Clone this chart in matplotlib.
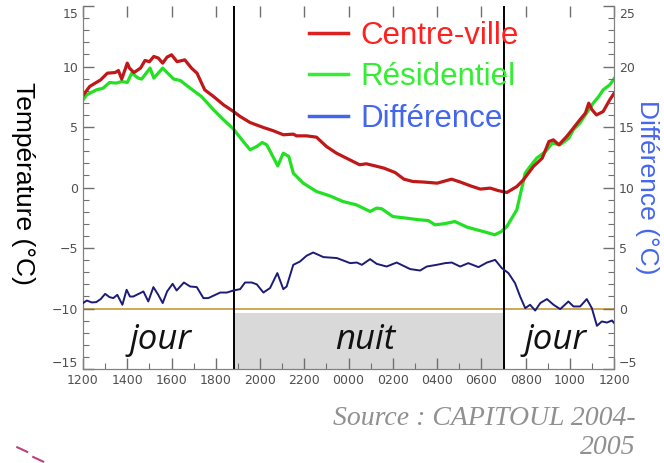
import matplotlib.pyplot as plt
from matplotlib.lines import Line2D
from matplotlib.transforms import ScaledTranslation
import numpy as np

# heures (12 = midi du 1er jour, 36 = midi du lendemain)
h_centre = [12.0, 12.3, 12.8, 13.1, 13.45, 13.6, 13.75, 14.0, 14.1, 14.3, 14.6, 14.8, 15.0, 15.2,
            15.4, 15.6, 15.8, 16.0, 16.25, 16.6, 16.9, 17.15, 17.5, 17.9, 18.35, 18.8, 19.1, 19.55,
            20.15, 20.6, 21.05, 21.5, 21.65, 22.1, 22.55, 23.0, 23.45, 24.05, 24.5, 24.8, 25.3, 25.6,
            26.1, 26.5, 26.9, 27.4, 28.0, 28.65, 29.05, 29.5, 29.95, 30.4, 30.75, 31.15, 31.6, 31.9,
            32.35, 32.75, 33.05, 33.25, 33.5, 33.85, 34.15, 34.45, 34.7, 34.85, 35.0, 35.2, 35.5,
            35.8, 36.0]
t_centre = [7.6, 8.35, 8.9, 9.45, 9.5, 9.67, 8.96, 10.28, 9.87, 9.5, 9.87, 10.5, 10.4, 10.83,
            10.7, 10.28, 10.78, 10.97, 10.4, 10.55, 9.87, 9.45, 8.07, 7.52, 6.83, 6.28, 5.87, 5.37,
            4.96, 4.69, 4.36, 4.41, 4.27, 4.27, 4.16, 3.39, 2.84, 2.29, 1.88, 1.96, 1.74, 1.6,
            1.24, 0.69, 0.5, 0.45, 0.36, 0.69, 0.45, 0.14, -0.13, -0.05, -0.25, -0.41, 0.08, 0.64,
            1.74, 2.43, 3.8, 3.94, 3.53, 4.21, 4.9, 5.6, 6.15, 6.97, 6.42, 6.0, 6.28,
            7.25, 7.8]

h_resid = [12.0, 12.17, 12.6, 12.9, 13.2, 13.5, 13.75, 14.0, 14.2, 14.5, 14.65, 15.03, 15.2, 15.6,
           15.8, 16.1, 16.4, 16.85, 17.35, 17.9, 18.35, 18.8, 19.0, 19.3, 19.55, 19.85, 20.1, 20.3,
           20.5, 20.8, 21.05, 21.3, 21.5, 21.95, 22.55, 23.15, 23.75, 24.35, 24.97, 25.27, 25.5,
           26.0, 26.6, 27.2, 27.6, 27.9, 28.3, 28.8, 29.35, 29.8, 30.25, 30.6, 30.9, 31.15, 31.6,
           31.98, 32.2, 32.5, 32.9, 33.2, 33.55, 33.95, 34.15, 34.45, 34.75, 35.05, 35.3, 35.5,
           35.8, 36.0]
t_resid = [7.25, 7.66, 8.07, 8.2, 8.68, 8.63, 8.76, 8.68, 9.45, 9.04, 8.96, 9.87, 9.04, 9.87,
           9.5, 8.96, 8.84, 8.2, 7.52, 6.42, 5.6, 4.83, 4.36, 3.67, 3.12, 3.39, 3.72, 3.53,
           2.84, 1.79, 2.84, 2.56, 1.19, 0.36, -0.33, -0.69, -1.16, -1.43, -1.98, -1.7, -1.76,
           -2.4, -2.53, -2.67, -2.73, -3.08, -3.0, -2.81, -3.27, -3.5, -3.72, -3.91, -3.64, -3.22, -1.84,
           1.19, 1.74, 2.43, 2.98, 3.67, 3.53, 4.08, 4.77, 5.32, 6.15, 6.97, 7.52, 8.07,
           8.49, 9.0]

h_diff = [12.0, 12.17, 12.4, 12.6, 12.8, 13.0, 13.2, 13.37, 13.55, 13.78, 13.97, 14.12, 14.27, 14.58,
          14.73, 14.95, 15.18, 15.4, 15.6, 15.8, 16.05, 16.23, 16.56, 16.84, 17.14, 17.44, 17.66,
          18.2, 18.5, 18.8, 19.1, 19.32, 19.62, 19.85, 20.15, 20.45, 20.78, 21.05, 21.2, 21.5, 21.8,
          22.1, 22.4, 22.86, 23.47, 24.07, 24.37, 24.6, 24.97, 25.27, 25.72, 26.17, 26.78, 27.23,
          27.53, 27.98, 28.36, 28.66, 29.04, 29.41, 29.87, 30.25, 30.62, 30.92, 31.22, 31.52, 31.75,
          31.98, 32.2, 32.43, 32.66, 32.96, 33.26, 33.56, 33.93, 34.16, 34.46, 34.76, 34.99, 35.22,
          35.44, 35.67, 35.9, 36.0]
diff = [0.45, 0.66, 0.5, 0.53, 0.78, 1.21, 0.94, 0.86, 1.13, 0.31, 1.55, 0.99, 0.99, 1.27,
        1.41, 0.58, 1.77, 1.13, 0.45, 1.41, 2.04, 1.49, 2.15, 1.82, 1.77, 0.86, 0.86,
        1.32, 1.32, 1.49, 1.6, 2.15, 2.15, 2.0, 1.32, 1.69, 2.93, 1.6, 1.82, 3.61, 3.88,
        4.36, 4.63, 4.25, 4.17, 3.75, 3.8, 3.61, 4.08, 3.69, 3.47, 3.8, 3.26, 3.14,
        3.47, 3.61, 3.75, 3.8, 3.47, 3.75, 3.42, 3.8, 4.02, 3.34, 2.93, 2.1, 0.99,
        0.03, 0.31, -0.17, 0.45, 0.78, 0.31, -0.05, 0.58, 0.17, 0.17, 0.78, 0.03, -1.43,
        -1.07, -1.16, -0.99, -1.21]

nuit_debut, nuit_fin = 18.8, 31.0
ticks_h = [12, 14, 16, 18, 20, 22, 24, 26, 28, 30, 32, 34, 36]
ticks_lab = ['1200', '1400', '1600', '1800', '2000', '2200', '0000', '0200', '0400', '0600',
             '0800', '1000', '1200']

fig = plt.figure(figsize=(6.64, 4.63), dpi=100)
ax = fig.add_axes([0.125, 0.203, 0.8, 0.784])
ax2 = ax.twinx()

ax.set_xlim(12, 36)
ax.set_ylim(-15, 15)
ax2.set_ylim(-5, 25)

ax.fill_between([nuit_debut, nuit_fin], -15, -10.38, color='#d9d9d9', lw=0, zorder=0)
ax.axhline(-10, color='#c9a24a', lw=1.3, zorder=1)
ax.axvline(nuit_debut, color='black', lw=1.4, zorder=4)
ax.axvline(nuit_fin, color='black', lw=1.4, zorder=4)

ax.plot(h_centre, t_centre, color='#c01818', lw=2.3, zorder=3)
ax.plot(h_resid, t_resid, color='#22e022', lw=2.3, zorder=2)
ax2.plot(h_diff, diff, color='#1c1c78', lw=1.4, zorder=3)

for xt, mot in [(15.48, 'jour'), (24.75, 'nuit'), (33.35, 'jour')]:
    ax.text(xt, -12.6, mot, fontsize=25, style='italic', ha='center', va='center',
            family='Open Sans', color='#111111')

ax.set_xticks(ticks_h)
ax.set_xticklabels(ticks_lab)
ax.set_xticks(np.arange(12, 36, 1), minor=True)
ax.set_yticks(np.arange(-15, 16, 5))
ax.set_yticks(np.arange(-15, 16, 1), minor=True)
ax2.set_yticks(np.arange(-5, 26, 5))
ax2.set_yticks(np.arange(-5, 26, 1), minor=True)

for a in (ax, ax2):
    a.tick_params(which='both', direction='in', colors='#707070', labelcolor='#505050',
                  labelsize=9, top=True)
    a.tick_params(which='major', length=8, width=1)
    a.tick_params(which='minor', length=4, width=0.8)
    for s in a.spines.values():
        s.set_color('#808080')
    a.spines['top'].set_visible(False)
ax.tick_params(axis='y', right=False)
ax.tick_params(axis='x', which='minor', top=False)
ax2.tick_params(axis='y', left=False, labelright=True)

# labels extremes un peu decales vers l'interieur
fig.canvas.draw()
up = ScaledTranslation(0, 5 / 72, fig.dpi_scale_trans)
down = ScaledTranslation(0, -5 / 72, fig.dpi_scale_trans)
for a in (ax, ax2):
    labs = a.get_yticklabels()
    labs[0].set_transform(labs[0].get_transform() + up)
    labs[-1].set_transform(labs[-1].get_transform() + down)

ax.set_ylabel('Température (°C)', fontsize=19, rotation=270, family='Liberation Sans')
ax.yaxis.set_label_coords(-0.135, 0.51)
ax2.set_ylabel('Différence (°C)', fontsize=19, rotation=270, color='#4466ee',
               family='Liberation Sans')
ax2.yaxis.set_label_coords(1.085, 0.50)

handles = [Line2D([], [], color='#dd2020', lw=2.5),
           Line2D([], [], color='#33ee33', lw=2.5),
           Line2D([], [], color='#4466ee', lw=2.5)]
ax.legend(handles, ['Centre-ville', 'Résidentiel', 'Différence'], loc='upper left',
          bbox_to_anchor=(0.372, 1.036), frameon=False, handlelength=1.25, handletextpad=0.4,
          labelspacing=0.36, prop={'family': 'Liberation Sans', 'size': 22.5},
          labelcolor=['#ff2020', '#33ee33', '#4466ee'])

fig.text(0.957, 0.065, 'Source : CAPITOUL 2004-\n2005', ha='right', va='center', fontsize=20,
         style='italic', family='Liberation Serif', color='#909090', linespacing=1.25)

fig.add_artist(Line2D([0.026, 0.041], [0.034, 0.024], color='#c04080', lw=1.5))
fig.add_artist(Line2D([0.05, 0.065], [0.013, 0.003], color='#c04080', lw=1.5))

fig.savefig('out.png', dpi=100)
